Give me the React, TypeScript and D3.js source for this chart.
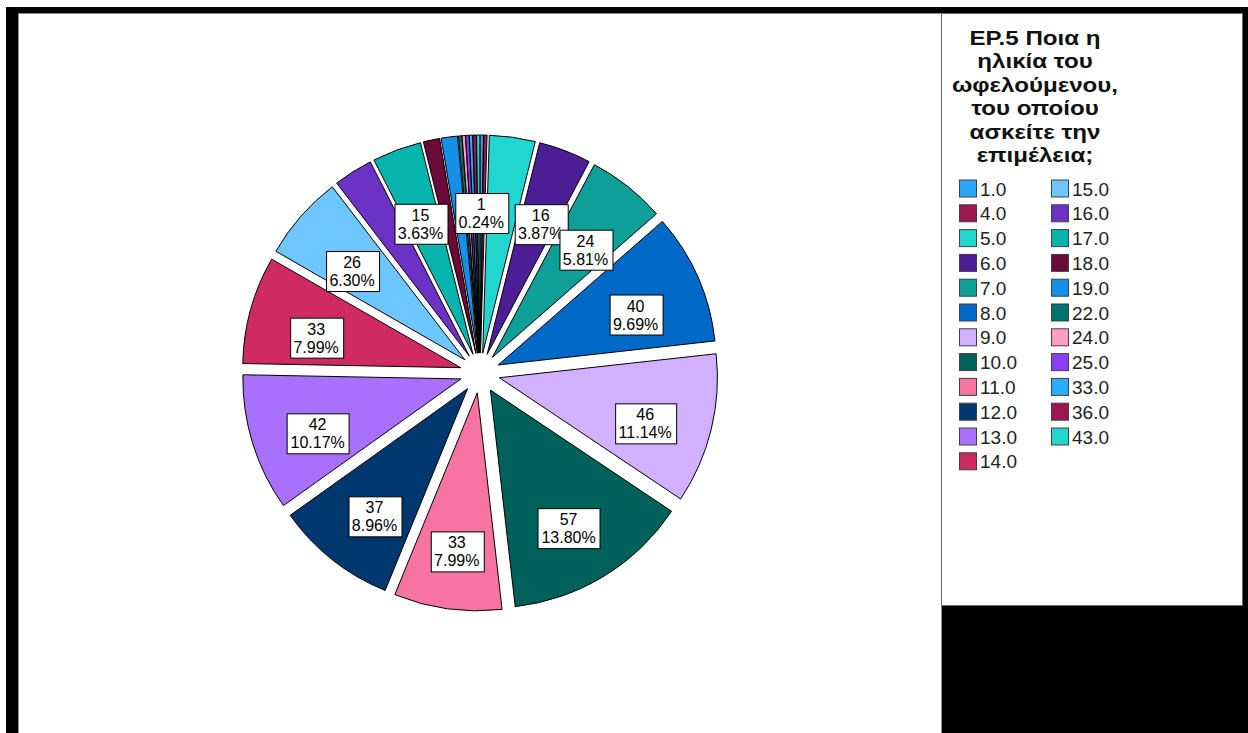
import { useEffect, useRef } from 'react'
import * as d3 from 'd3'

const CATEGORIES = ["1.0", "4.0", "5.0", "6.0", "7.0", "8.0", "9.0", "10.0", "11.0", "12.0", "13.0", "14.0",
  "15.0", "16.0", "17.0", "18.0", "19.0", "22.0", "24.0", "25.0", "33.0", "36.0", "43.0"];
const COUNTS = [1, 1, 14, 16, 24, 40, 46, 57, 33, 37, 42, 33, 26, 12, 15, 5, 5, 1, 1, 1, 1, 1, 1];
const COLORS = ["#2aa6f8", "#9c1850", "#22d6d0", "#4b1e96", "#0e9f98", "#0068c6", "#d0b0ff", "#00615b",
  "#f774a2", "#00376f", "#a870fd", "#d02a62", "#6ec6fe", "#6c32c6", "#08b4ae", "#6a0a38", "#1490e8",
  "#00756e", "#ff9ec0", "#8c3dfc", "#2caefe", "#9b1753", "#24d6d0"];
// only these slices get a value label (the rest are hidden by overlap in the original)
const SHOWN_LABELS = ["1.0", "6.0", "7.0", "8.0", "9.0", "10.0", "11.0", "12.0", "13.0", "14.0", "15.0", "17.0"];
const TITLE_LINES = ["ΕΡ.5 Ποια η", "ηλικία του", "ωφελούμενου,", "του οποίου", "ασκείτε την", "επιμέλεια;"];

const FONT = "'Liberation Sans', Arial, sans-serif";

export default function App() {
  const ref = useRef<SVGSVGElement>(null)

  useEffect(() => {
    const svg = d3.select(ref.current)
    svg.selectAll('*').remove()

    const width = 1248, height = 733

    // frame
    svg.append('rect').attr('x', 0).attr('y', 0).attr('width', width).attr('height', height).attr('fill', '#fff')
    svg.append('rect').attr('x', 6).attr('y', 7).attr('width', width - 6).attr('height', height - 7).attr('fill', '#000')
    svg.append('rect').attr('x', 18.5).attr('y', 13.5).attr('width', 923).attr('height', 730)
      .attr('fill', '#fff').attr('stroke', '#8a8a8a').attr('stroke-width', 1)
    svg.append('rect').attr('x', 941.5).attr('y', 13.5).attr('width', 301).attr('height', 592)
      .attr('fill', '#fff').attr('stroke', '#6a6a6a').attr('stroke-width', 1)

    // pie
    const cx = 480, cy = 373, R = 218, explode = 20, labelR = 170, labelDrop = 10
    const total = d3.sum(COUNTS)
    const rows = CATEGORIES.map((c, i) => ({ cat: c, value: COUNTS[i], color: COLORS[i] }))
    const pie = d3.pie<any>().sort(null).value(d => d.value).startAngle(0).endAngle(2 * Math.PI)
    const arcs = pie(rows)
    const arc = d3.arc<any>().innerRadius(0).outerRadius(R)

    const pieG = svg.append('g').attr('transform', `translate(${cx},${cy})`)
    pieG.selectAll('path')
      .data(arcs)
      .enter().append('path')
      .attr('transform', d => {
        const m = (d.startAngle + d.endAngle) / 2
        return `translate(${explode * Math.sin(m)},${-explode * Math.cos(m)})`
      })
      .attr('d', arc)
      .attr('fill', d => d.data.color)
      .attr('stroke', '#000')
      .attr('stroke-width', 1)
      .attr('stroke-linejoin', 'round')

    const labels = pieG.selectAll('g.lbl')
      .data(arcs.filter(d => SHOWN_LABELS.includes(d.data.cat)))
      .enter().append('g')
      .attr('class', 'lbl')
      .attr('transform', d => {
        const m = (d.startAngle + d.endAngle) / 2
        return `translate(${labelR * Math.sin(m)},${-labelR * Math.cos(m) + labelDrop})`
      })

    labels.each(function (d) {
      const g = d3.select(this)
      const rect = g.append('rect').attr('fill', '#fff').attr('stroke', '#000').attr('stroke-width', 1)
      const t = g.append('text')
        .attr('text-anchor', 'middle')
        .style('font-family', FONT)
        .style('font-size', '16px')
        .attr('fill', '#000')
      t.append('tspan').attr('x', 0).attr('y', -3).text(String(d.data.value))
      t.append('tspan').attr('x', 0).attr('y', 15).text((d.data.value / total * 100).toFixed(2) + '%')
      const bb = (t.node() as SVGTextElement).getBBox()
      const w = Math.round(bb.width + 8)
      rect.attr('x', Math.round(-w / 2) + 0.5).attr('y', -19.5).attr('width', w).attr('height', 40)
    })

    // legend
    const lg = svg.append('g')
    const title = lg.append('g').attr('transform', 'translate(1035,0) scale(1.15,1)')
      .append('text')
      .attr('text-anchor', 'middle')
      .style('font-family', FONT)
      .style('font-size', '21px')
      .style('font-weight', 'bold')
      .attr('fill', '#111')
    TITLE_LINES.forEach((line, i) => {
      title.append('tspan').attr('x', 0).attr('y', 45 + i * 23.4).text(line)
    })

    const perCol = 12
    const items = lg.selectAll('g.item')
      .data(rows)
      .enter().append('g')
      .attr('class', 'item')
      .attr('transform', (d, i) => {
        const col = Math.floor(i / perCol), row = i % perCol
        return `translate(${959 + col * 92},${188.5 + row * 24.8})`
      })
    items.append('rect')
      .attr('x', 0.5).attr('y', -8.5).attr('width', 17).attr('height', 17)
      .attr('fill', d => d.color).attr('stroke', '#404040').attr('stroke-width', 1)
    items.append('text')
      .attr('x', 21).attr('y', 7)
      .style('font-family', FONT)
      .style('font-size', '19px')
      .attr('fill', '#222')
      .text(d => d.cat)
  }, [])

  return <svg ref={ref} width={1248} height={733} style={{ position: 'absolute', left: 0, top: 0, display: 'block' }} />
}
